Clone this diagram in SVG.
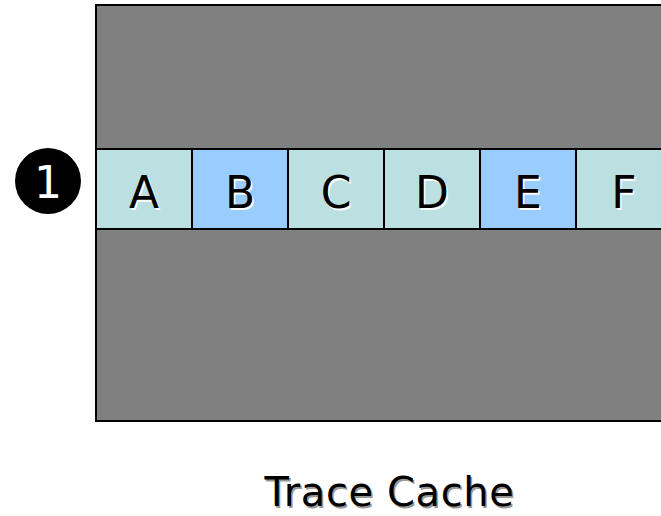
<svg xmlns="http://www.w3.org/2000/svg" width="661" height="516" viewBox="0 0 661 516">
  <style>
    .cell { stroke: #000; stroke-width: 2; }
    .light { fill: #bce0e2; }
    .blue { fill: #99ccff; }
    .lbl { font-family: "DejaVu Sans", "Liberation Sans", sans-serif; font-size: 44px; text-anchor: middle; }
    .shadow { fill: #fff; }
    .ink { fill: #000; }
    .cap { font-size: 40px; letter-spacing: 0.6px; }
  </style>
  <rect width="661" height="516" fill="#fff"/>
  <g id="trace-cache">
    <rect x="96" y="5" width="580" height="416" fill="#808080" stroke="#000" stroke-width="2"/>
  </g>
  <g id="cell-A">
    <rect class="cell light" x="96" y="149" width="96" height="80"/>
    <text class="lbl shadow" x="145.5" y="209.5">A</text>
    <text class="lbl ink" x="144" y="208">A</text>
  </g>
  <g id="cell-B">
    <rect class="cell blue" x="192" y="149" width="96" height="80"/>
    <text class="lbl shadow" x="241.5" y="209.5">B</text>
    <text class="lbl ink" x="240" y="208">B</text>
  </g>
  <g id="cell-C">
    <rect class="cell light" x="288" y="149" width="96" height="80"/>
    <text class="lbl shadow" x="337.5" y="209.5">C</text>
    <text class="lbl ink" x="336" y="208">C</text>
  </g>
  <g id="cell-D">
    <rect class="cell light" x="384" y="149" width="96" height="80"/>
    <text class="lbl shadow" x="433.5" y="209.5">D</text>
    <text class="lbl ink" x="432" y="208">D</text>
  </g>
  <g id="cell-E">
    <rect class="cell blue" x="480" y="149" width="96" height="80"/>
    <text class="lbl shadow" x="529.5" y="209.5">E</text>
    <text class="lbl ink" x="528" y="208">E</text>
  </g>
  <g id="cell-F">
    <rect class="cell light" x="576" y="149" width="96" height="80"/>
    <text class="lbl shadow" x="625.5" y="209.5">F</text>
    <text class="lbl ink" x="624" y="208">F</text>
  </g>
  <g id="step-1">
    <circle cx="48" cy="181" r="33" fill="#000"/>
    <text class="lbl" x="48" y="198" font-size="46" fill="#fff">1</text>
  </g>
  <g id="caption">
    <text class="lbl cap" x="391" y="507.5" fill="#999">Trace Cache</text>
    <text class="lbl cap ink" x="389.5" y="506">Trace Cache</text>
  </g>
</svg>
